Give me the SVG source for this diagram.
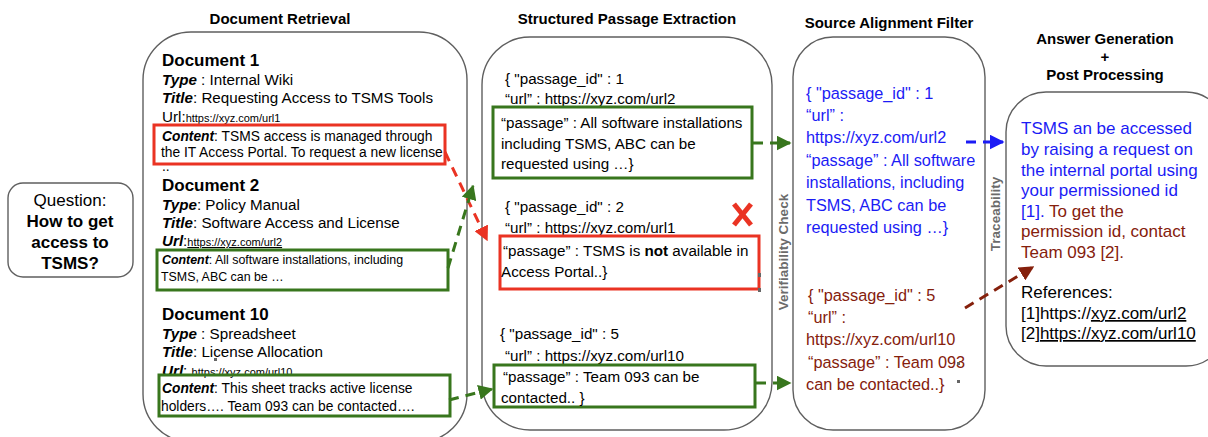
<svg xmlns="http://www.w3.org/2000/svg" width="1208" height="437" viewBox="0 0 1208 437">
  <defs>
    <style>
      text { font-family: "Liberation Sans", Arial, sans-serif; }
      .head { font-size: 15px; font-weight: bold; text-anchor: middle; fill: #000; }
      .meta { font-size: 15.2px; fill: #000; }
      .doc { font-size: 13.8px; fill: #000; }
      .doc-sm { font-size: 12.4px; fill: #000; }
      .dtitle { font-size: 17px; font-weight: bold; fill: #000; }
      .q { font-size: 17px; text-anchor: middle; fill: #000; }
      .bi { font-weight: bold; font-style: italic; }
      .small { font-size: 11px; }
      .pas { font-size: 15.2px; fill: #000; }
      .blue { font-size: 16.3px; fill: #1b1bf5; }
      .brown { font-size: 16.3px; fill: #85200c; }
      .ans { font-size: 17px; fill: #000; }
      .ans-blue { font-size: 17px; fill: #1b1bf5; }
      .ans-brown { font-size: 17px; fill: #85200c; }
      .vlab { font-size: 13.5px; font-weight: bold; fill: #6b6b6b; text-anchor: middle; }
      .panel { fill: #fff; stroke: #5f5f5f; stroke-width: 1.4; }
      .redbox { fill: none; stroke: #ea3323; stroke-width: 3; }
      .greenbox { fill: none; stroke: #38761d; stroke-width: 3; }
      .dash { fill: none; stroke-width: 3; stroke-dasharray: 10 7; }
      .handle { fill: #666; }
    </style>
    <marker id="arrRed" viewBox="0 0 10 10" refX="9" refY="5" markerWidth="5" markerHeight="5" orient="auto" markerUnits="strokeWidth">
      <path d="M0,0 L10,5 L0,10 z" fill="#ea3323"/>
    </marker>
    <marker id="arrGreen" viewBox="0 0 10 10" refX="9" refY="5" markerWidth="5" markerHeight="5" orient="auto" markerUnits="strokeWidth">
      <path d="M0,0 L10,5 L0,10 z" fill="#38761d"/>
    </marker>
    <marker id="arrBlue" viewBox="0 0 10 10" refX="9" refY="5" markerWidth="5" markerHeight="5" orient="auto" markerUnits="strokeWidth">
      <path d="M0,0 L10,5 L0,10 z" fill="#1b1bf5"/>
    </marker>
    <marker id="arrBrown" viewBox="0 0 10 10" refX="9" refY="5" markerWidth="5" markerHeight="5" orient="auto" markerUnits="strokeWidth">
      <path d="M0,0 L10,5 L0,10 z" fill="#85200c"/>
    </marker>
  </defs>

  <rect width="1208" height="437" fill="#fff"/>

  <!-- Stage headings -->
  <g id="headings">
    <text class="head" x="280" y="24">Document Retrieval</text>
    <text class="head" x="627" y="24">Structured Passage Extraction</text>
    <text class="head" x="889" y="28">Source Alignment Filter</text>
    <text class="head" x="1105" y="44">Answer Generation</text>
    <text class="head" x="1105" y="62">+</text>
    <text class="head" x="1105" y="80">Post Processing</text>
  </g>

  <!-- Question -->
  <g id="question">
    <rect class="panel" x="8" y="183" width="125" height="94" rx="15"/>
    <text class="q" x="70" y="206">Question:</text>
    <text class="q" x="70" y="227" font-weight="bold">How to get</text>
    <text class="q" x="70" y="248" font-weight="bold">access to</text>
    <text class="q" x="70" y="269" font-weight="bold">TSMS?</text>
  </g>

  <!-- Document Retrieval -->
  <g id="document-retrieval">
    <rect class="panel" x="143" y="32" width="324" height="410" rx="48"/>
    <text class="dtitle" x="162" y="66">Document 1</text>
    <text class="meta" x="162" y="85"><tspan class="bi">Type</tspan> : Internal Wiki</text>
    <text class="meta" x="162" y="103"><tspan class="bi">Title</tspan>: Requesting Access to TSMS Tools</text>
    <text class="meta" x="162" y="122">Url:<tspan class="small">https://xyz.com/url1</tspan></text>
    <rect class="redbox" x="154" y="125" width="291" height="39"/>
    <text class="doc" x="162" y="141"><tspan class="bi">Content</tspan>: TSMS access is managed through</text>
    <text class="doc" x="161" y="157">the IT Access Portal. To request a new license</text>
    <text class="doc" x="162" y="171">..</text>

    <text class="dtitle" x="162" y="191">Document 2</text>
    <text class="meta" x="162" y="210"><tspan class="bi">Type</tspan>: Policy Manual</text>
    <text class="meta" x="162" y="228"><tspan class="bi">Title</tspan>: Software Access and License</text>
    <text class="meta" x="162" y="246"><tspan class="bi">Url</tspan>:<tspan class="small" text-decoration="underline">https://xyz.com/url2</tspan></text>
    <rect class="greenbox" x="157" y="250" width="291" height="40"/>
    <text class="doc-sm" x="162" y="264"><tspan class="bi">Content</tspan>: All software installations, including</text>
    <text class="doc-sm" x="161" y="281">TSMS, ABC can be …</text>

    <text class="dtitle" x="162" y="320">Document 10</text>
    <text class="meta" x="162" y="339"><tspan class="bi">Type</tspan> : Spreadsheet</text>
    <text class="meta" x="162" y="357"><tspan class="bi">Title</tspan>: License Allocation</text>
    <text class="meta" x="162" y="376"><tspan class="bi">Url</tspan>: <tspan class="small">https://xyz.com/url10</tspan></text>
    <rect class="handle" x="214" y="358" width="3" height="3"/>
    <rect class="greenbox" x="159" y="375" width="291" height="41"/>
    <text class="doc" x="162" y="393"><tspan class="bi">Content</tspan>: This sheet tracks active license</text>
    <text class="doc" x="161" y="411">holders…. Team 093 can be contacted….</text>
  </g>

  <!-- Structured Passage Extraction -->
  <g id="passage-extraction">
    <rect class="panel" x="482" y="37" width="290" height="393" rx="48"/>
    <text class="pas" x="505" y="84">{ "passage_id" : 1</text>
    <text class="pas" x="505" y="104">“url” : https://xyz.com/url2</text>
    <rect class="greenbox" x="493" y="107" width="259" height="71"/>
    <text class="pas" x="501" y="128"> “passage” : All software installations</text>
    <text class="pas" x="501" y="149">including TSMS, ABC can be</text>
    <text class="pas" x="501" y="169">requested using …}</text>

    <text class="pas" x="505" y="212">{ "passage_id" : 2</text>
    <text class="pas" x="505" y="233">“url” : https://xyz.com/url1</text>
    <rect class="redbox" x="500" y="236" width="259" height="53"/>
    <text class="pas" x="503" y="256"> “passage” : TSMS is <tspan font-weight="bold">not</tspan> available in</text>
    <text class="pas" x="501" y="277">Access Portal..}</text>
    <rect class="handle" x="758" y="273" width="3" height="4"/>
    <rect class="handle" x="758" y="288" width="3" height="4"/>
    <!-- rejected marker -->
    <g stroke="#ea3323" stroke-width="5" stroke-linecap="butt">
      <line x1="734" y1="204" x2="751" y2="225"/>
      <line x1="751" y1="204" x2="734" y2="225"/>
    </g>

    <text class="pas" x="500" y="339">{ "passage_id" : 5</text>
    <text class="pas" x="505" y="361">“url” : https://xyz.com/url10</text>
    <rect class="greenbox" x="494" y="365" width="261" height="42"/>
    <text class="pas" x="503" y="382"> “passage” : Team 093 can be</text>
    <text class="pas" x="501" y="403">contacted.. }</text>
  </g>

  <!-- Verifiability Check label -->
  <g id="verifiability-check">
    <text class="vlab" transform="translate(788 252) rotate(-90)">Verifiability Check</text>
  </g>

  <!-- Source Alignment Filter -->
  <g id="source-alignment">
    <rect class="panel" x="793" y="37" width="192" height="393" rx="40"/>
    <text class="blue" x="806" y="99">{ "passage_id" : 1</text>
    <text class="blue" x="806" y="121"> “url” :</text>
    <text class="blue" x="806" y="143">https://xyz.com/url2</text>
    <text class="blue" x="806" y="166"> “passage” : All software</text>
    <text class="blue" x="806" y="188">installations, including</text>
    <text class="blue" x="806" y="211">TSMS, ABC can be</text>
    <text class="blue" x="806" y="233">requested using …}</text>

    <text class="brown" x="808" y="301">{  "passage_id" : 5</text>
    <text class="brown" x="808" y="323"> “url” :</text>
    <text class="brown" x="806" y="345">https://xyz.com/url10</text>
    <text class="brown" x="808" y="368"> “passage” : Team 093</text>
    <text class="brown" x="806" y="390">can be contacted..}</text>
    <rect class="handle" x="957" y="362" width="3" height="3"/>
    <rect class="handle" x="957" y="380" width="3" height="3"/>
  </g>

  <!-- Traceability label -->
  <g id="traceability">
    <text class="vlab" transform="translate(1000 214) rotate(-90)">Traceability</text>
  </g>

  <!-- Answer Generation + Post Processing -->
  <g id="answer">
    <rect class="panel" x="1006" y="92" width="220" height="274" rx="40"/>
    <text class="ans-blue" x="1021" y="134">TSMS an be accessed</text>
    <text class="ans-blue" x="1021" y="155">by raising a request on</text>
    <text class="ans-blue" x="1021" y="176">the internal portal using</text>
    <text class="ans-blue" x="1021" y="196">your permissioned id</text>
    <text class="ans-blue" x="1021" y="217">[1]. <tspan class="ans-brown">To get the</tspan></text>
    <text class="ans-brown" x="1021" y="237">permission id, contact</text>
    <text class="ans-brown" x="1021" y="258">Team 093 [2].</text>
    <text class="ans" x="1021" y="298">References:</text>
    <text class="ans" x="1021" y="319">[1]https://<tspan text-decoration="underline">xyz.com/url2</tspan></text>
    <text class="ans" x="1021" y="339">[2]<tspan text-decoration="underline">https://xyz.com/url10</tspan></text>
  </g>

  <!-- Connectors -->
  <g id="connectors">
    <line class="dash" x1="445" y1="152" x2="487" y2="240" stroke="#ea3323" marker-end="url(#arrRed)"/>
    <line class="dash" x1="448" y1="268" x2="473" y2="186" stroke="#38761d" marker-end="url(#arrGreen)"/>
    <line class="dash" x1="449" y1="400" x2="492" y2="389" stroke="#38761d" marker-end="url(#arrGreen)"/>
    <line class="dash" x1="753" y1="143" x2="790" y2="143" stroke="#38761d" marker-end="url(#arrGreen)"/>
    <line class="dash" x1="756" y1="383" x2="790" y2="383" stroke="#38761d" marker-end="url(#arrGreen)"/>
    <line class="dash" x1="966" y1="142" x2="1003" y2="142" stroke="#1b1bf5" marker-end="url(#arrBlue)"/>
    <line class="dash" x1="965" y1="308" x2="1033" y2="267" stroke="#85200c" marker-end="url(#arrBrown)"/>
  </g>
</svg>
